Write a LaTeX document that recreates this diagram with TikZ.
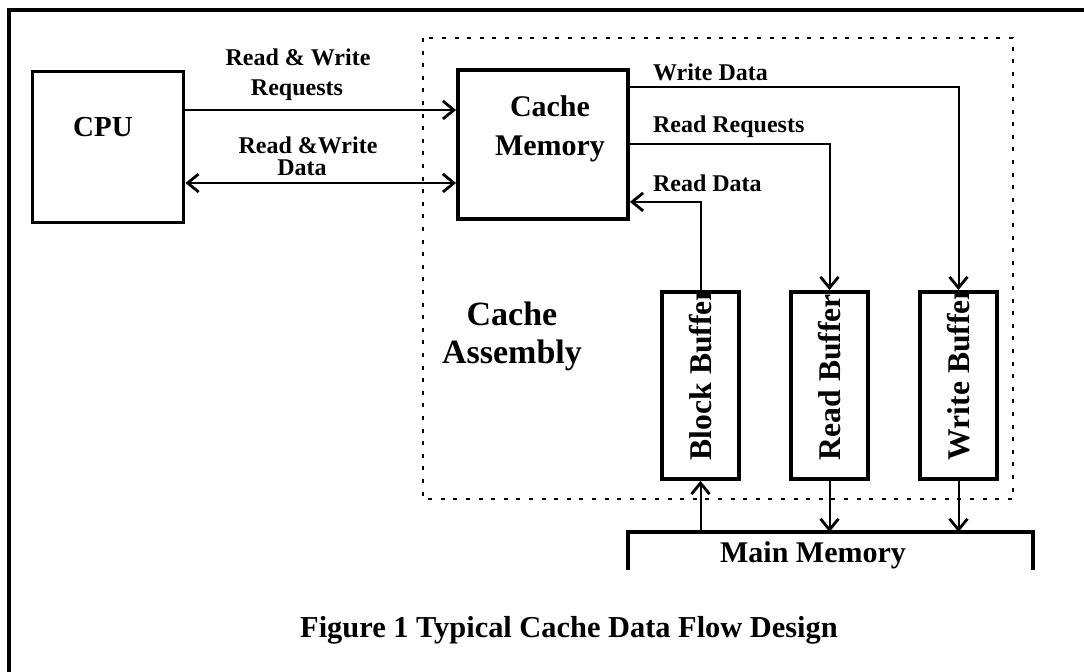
\documentclass[tikz,border=0pt]{standalone}
\usepackage{fontspec}
\setmainfont{Liberation Serif}
\usetikzlibrary{arrows.meta}

\begin{document}
\begin{tikzpicture}
  [x=0.5pt,y=-0.5pt,>={Straight Barb[length=5.5pt,width=9pt,line width=1.4pt]},
   every node/.style={font=\bfseries},
   unit/.style={draw,line width=1.9pt,inner sep=0pt},
   flow/.style={line width=1pt},
   lbl/.style={font=\fontsize{12}{13}\selectfont\bfseries},
   big/.style={font=\fontsize{15}{19.5}\selectfont\bfseries},
   buffer/.style={unit,minimum width=38.5pt,minimum height=93.5pt,
     path picture={\node[rotate=90,anchor=west,inner sep=0pt,font=\fontsize{15.8}{16}\selectfont\bfseries]
       at ([yshift=8.5pt]path picture bounding box.south) {#1};}}]
  \useasboundingbox (0,0) rectangle (1084,672);
  \draw [line width=1.6pt] (9,672) -- (9,10) -- (1084,10);
  \draw [line width=0.6pt,dash pattern=on 2pt off 4.3pt] (423,38) rectangle (1013,499);

  \node [unit,minimum width=75.5pt,minimum height=75.5pt] (cpu) at (108,147) {};
  \node [font=\fontsize{14.5}{15}\selectfont\bfseries] (cpulbl) at (103,127) {CPU};
  \node [unit,minimum width=85pt,minimum height=74.5pt] (cache) at (543,144.5) {};
  \node [big,align=center] (cachelbl) at (550,128.5) {Cache\\Memory};
  \node [font=\fontsize{17}{19}\selectfont\bfseries,align=center] (asmlbl) at (512,336) {Cache\\Assembly};

  \foreach \name/\txt/\x in {blockbuf/Block Buffer/700.5,readbuf/Read Buffer/829.5,writebuf/Write Buffer/958.5}
    \node [buffer=\txt] (\name) at (\x,385.5) {};

  \node [big] (mainmem) at (813,555) {Main Memory};
  \coordinate (mmleft) at (628,532);
  \coordinate (mmright) at (1033,532);
  \draw [line width=2.1pt] (628,570) -- (mmleft) -- (mmright) -- (1033,570);

  \coordinate (rwreq) at ([yshift=18.5pt]cpu.east);
  \coordinate (rwdat) at ([yshift=-18pt]cpu.east);
  \draw [flow,->] (rwreq) -- (rwreq -| cache.west);
  \draw [flow,<->] (rwdat) -- (rwdat -| cache.west);
  \node [lbl] (reqlbl1) at (298,57) {Read \& Write};
  \node [lbl] (reqlbl2) at (297,90) {Requests};
  \node [lbl] (datlbl1) at (308,145) {Read \&Write};
  \node [lbl] (datlbl2) at (302,168) {Data};

  \coordinate (wdat) at ([yshift=-9.5pt]cache.north east);
  \coordinate (rdat) at ([yshift=9.5pt]cache.south east);
  \draw [flow,->] (wdat) -| (writebuf.north);
  \draw [flow,->] (cache.east) -| (readbuf.north);
  \draw [flow,->] (blockbuf.north) |- (rdat);
  \node [lbl,anchor=west] (wdatlbl) at (646,72) {Write Data};
  \node [lbl,anchor=west] (rreqlbl) at (646,127) {Read Requests};
  \node [lbl,anchor=west] (rdatlbl) at (646,183) {Read Data};

  \draw [flow,->] (blockbuf.south |- mmleft) -- (blockbuf.south);
  \draw [flow,->] (readbuf.south) -- (readbuf.south |- mmleft);
  \draw [flow,->] (writebuf.south) -- (writebuf.south |- mmleft);

  \node [font=\fontsize{15.2}{16}\selectfont\bfseries] (caption) at (569,630) {Figure 1 Typical Cache Data Flow Design};
\end{tikzpicture}
\end{document}
